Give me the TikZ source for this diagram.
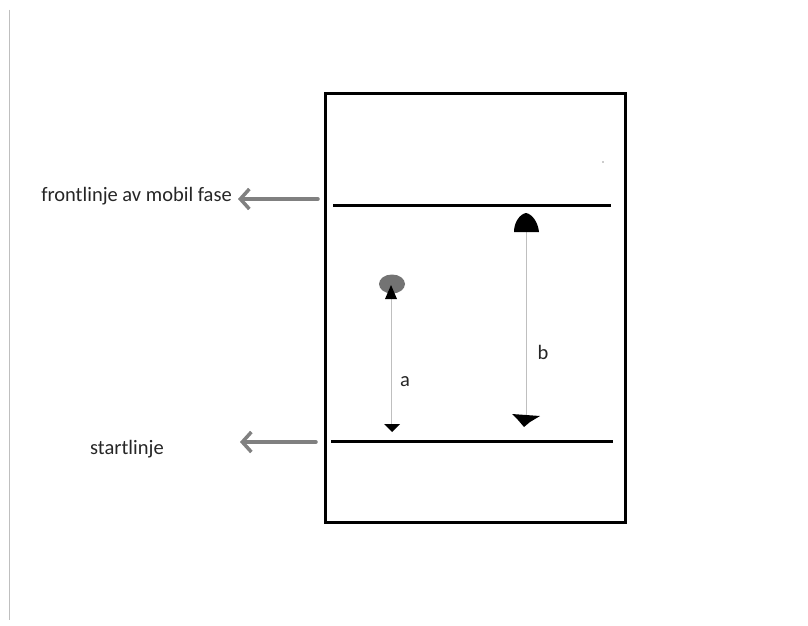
\documentclass[tikz,border=0pt]{standalone}
\usepackage{fontspec}
\setmainfont{Carlito}
\usetikzlibrary{arrows.meta,shapes.geometric}
\begin{document}
\begin{tikzpicture}[x=1pt,y=-1pt,
  thickline/.style={line width=3pt,black},
  grayarrow/.style={line width=3.5pt,color=black!50,line cap=round,-{Straight Barb[length=9pt,width=20pt,line width=3.5pt]}},
  distarrow/.style={line width=0.9pt,color=black!25},
  lbl/.style={font=\fontsize{20.5}{24}\selectfont,text=black!85,inner sep=0pt}]
\useasboundingbox (0,0) rectangle (808,626);
\fill[white] (0,0) rectangle (808,626);
\draw[black!25,line width=1pt] (9,10) -- (9,620);
% plate
\draw[thickline] (325,93) rectangle (625,522);
\coordinate (fl1) at (333,205); \coordinate (fl2) at (611,205);
\coordinate (sl1) at (331,441); \coordinate (sl2) at (613,441);
\draw[thickline] (fl1) -- (fl2);
\draw[thickline] (sl1) -- (sl2);
% labels with arrows
\node[lbl,anchor=east] (front) at (232,196) {frontlinje av mobil fase};
\node[lbl,anchor=west] (start) at (90,449) {startlinje};
\coordinate (fa) at (318,199); \coordinate (sa) at (316,442);
\coordinate (fe) at (238,199); \coordinate (se) at (240,442);
\draw[grayarrow] (fa) -- (fe);
\draw[grayarrow] (sa) -- (se);
% spot a
\node[ellipse,fill=black!55,minimum width=26pt,minimum height=19pt,inner sep=0pt] (spota) at (392,284) {};
\coordinate (a0) at (391,428);
\draw[distarrow] (a0) -- (391,296);
\fill[black] (391,285) -- (385,299) -- (397,299) -- cycle;
\fill[black] (384,424) -- (400,424) -- (392,432) -- cycle;
\node[lbl] (la) at (405,382) {a};
% spot b
\coordinate (b0) at (526,418);
\draw[distarrow] (b0) -- (526,232);
\fill[black] (514,232) .. controls (514,222) and (520,214) .. (526,213) .. controls (532,214) and (538,222) .. (539,232) -- cycle;
\fill[black] (512,414) -- (540,416) -- (530,422) -- (524,427) -- (518,420) -- cycle;
\node[lbl] (lb) at (543,352) {b};
\fill[black!40] (603,162) circle (0.8pt);
\end{tikzpicture}
\end{document}
